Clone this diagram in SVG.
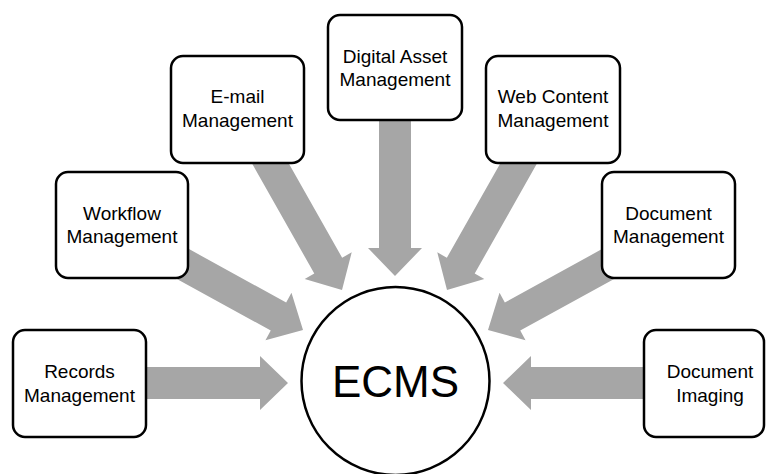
<svg xmlns="http://www.w3.org/2000/svg" width="766" height="474" viewBox="0 0 766 474">
  <style>
    .box { fill: #ffffff; stroke: #000000; stroke-width: 2.5; }
    .hub { fill: #ffffff; stroke: #000000; stroke-width: 2.5; }
    .lbl { font-family: "Liberation Sans", Arial, sans-serif; font-size: 19px; fill: #000000; text-anchor: middle; }
    .big { font-family: "Liberation Sans", Arial, sans-serif; font-size: 44px; fill: #000000; text-anchor: middle; }
    .arrow { fill: #a6a6a6; stroke: none; }
  </style>

  <g id="connectors">
    <!-- Records Management -> ECMS -->
    <polygon class="arrow" points="140,367 260,367 260,356 288,383 260,410 260,399 140,399"/>
    <!-- Document Imaging -> ECMS -->
    <polygon class="arrow" points="651,367 531,367 531,356 503,383 531,410 531,399 651,399"/>
    <!-- Digital Asset Management -> ECMS -->
    <polygon class="arrow" points="379,112 411,112 411,248 422,248 395,276 368,248 379,248"/>
    <!-- Workflow Management -> ECMS (tip at origin, pointing +x) -->
    <polygon class="arrow" transform="translate(303,330) rotate(28.8)" points="-145,-16 -28,-16 -28,-27 0,0 -28,27 -28,16 -145,16"/>
    <!-- Document Management -> ECMS -->
    <polygon class="arrow" transform="translate(488,330) rotate(151.2)" points="-145,-16 -28,-16 -28,-27 0,0 -28,27 -28,16 -145,16"/>
    <!-- E-mail Management -> ECMS -->
    <polygon class="arrow" transform="translate(342,290) rotate(60.5)" points="-165,-16 -28,-16 -28,-27 0,0 -28,27 -28,16 -165,16"/>
    <!-- Web Content Management -> ECMS -->
    <polygon class="arrow" transform="translate(447,290) rotate(119.5)" points="-165,-16 -28,-16 -28,-27 0,0 -28,27 -28,16 -165,16"/>
  </g>

  <g id="records">
    <rect class="box" x="13" y="330" width="133" height="107" rx="12"/>
    <text class="lbl" x="79.5" y="378">Records</text>
    <text class="lbl" x="79.5" y="402">Management</text>
  </g>

  <g id="workflow">
    <rect class="box" x="56" y="172" width="132" height="106" rx="12"/>
    <text class="lbl" x="122" y="220">Workflow</text>
    <text class="lbl" x="122" y="243">Management</text>
  </g>

  <g id="email">
    <rect class="box" x="171" y="56" width="133" height="107" rx="12"/>
    <text class="lbl" x="237.5" y="103">E-mail</text>
    <text class="lbl" x="237.5" y="127">Management</text>
  </g>

  <g id="digital-asset">
    <rect class="box" x="328" y="15" width="134" height="105" rx="12"/>
    <text class="lbl" x="395" y="63">Digital Asset</text>
    <text class="lbl" x="395" y="86">Management</text>
  </g>

  <g id="web-content">
    <rect class="box" x="486" y="56" width="134" height="107" rx="12"/>
    <text class="lbl" x="553" y="103">Web Content</text>
    <text class="lbl" x="553" y="127">Management</text>
  </g>

  <g id="document-management">
    <rect class="box" x="602" y="172" width="133" height="106" rx="12"/>
    <text class="lbl" x="668.5" y="220">Document</text>
    <text class="lbl" x="668.5" y="243">Management</text>
  </g>

  <g id="document-imaging">
    <rect class="box" x="644" y="330" width="120" height="107" rx="12"/>
    <text class="lbl" x="710" y="378">Document</text>
    <text class="lbl" x="710" y="402">Imaging</text>
  </g>

  <g id="ecms">
    <circle class="hub" cx="395.5" cy="381" r="94"/>
    <text class="big" x="395.5" y="397">ECMS</text>
  </g>
</svg>
